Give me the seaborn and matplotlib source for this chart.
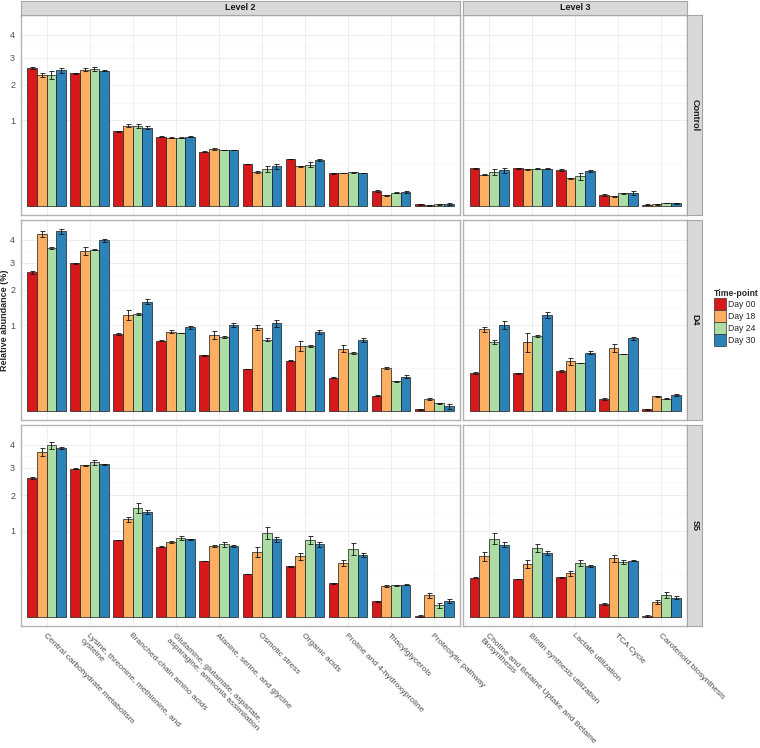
import numpy as np
import pandas as pd
import matplotlib
matplotlib.use("Agg")
import matplotlib.pyplot as plt
import seaborn as sns
from matplotlib.patches import Patch
from matplotlib.container import BarContainer

# categories
level2 = ["Central carbohydrate metabolism",
          "Lysine, threonine, methionine, and\ncysteine",
          "Branched-chain amino acids",
          "Glutamine, glutamate, aspartate,\nasparagine; ammonia assimilation",
          "Alanine, serine, and glycine",
          "Osmotic stress",
          "Organic acids",
          "Proline and 4-hydroxyproline",
          "Triacylglycerols",
          "Proteolytic pathway"]
level3 = ["Choline and Betaine Uptake and Betaine\nBiosynthesis",
          "Biotin synthesis utilization",
          "Lactate utilization",
          "TCA Cycle",
          "Carotenoid biosynthesis"]
days = ["Day 00", "Day 18", "Day 24", "Day 30"]
groups = ["Control", "D4", "S5"]
colors = ["#D7191C", "#FDAE61", "#ABDDA4", "#2B83BA"]

# mean relative abundance (%), one row per time-point
ctrl_l2 = [[2.60, 2.40, 0.76, 0.655, 0.402, 0.240, 0.300, 0.145, 0.032, 0.0003],
           [2.33, 2.54, 0.88, 0.636, 0.442, 0.160, 0.214, 0.148, 0.015, 0.0001],
           [2.35, 2.55, 0.87, 0.636, 0.427, 0.186, 0.232, 0.154, 0.024, 0.0003],
           [2.51, 2.49, 0.84, 0.655, 0.427, 0.214, 0.288, 0.148, 0.026, 0.0006]]
ctrl_l2_se = [[0.025, 0.02, 0.01, 0.008, 0.006, 0.005, 0.005, 0.004, 0.004, 0.0002],
              [0.071, 0.05, 0.036, 0.008, 0.01, 0.009, 0.006, 0.004, 0.002, 0.0001],
              [0.143, 0.074, 0.044, 0.008, 0.006, 0.03, 0.03, 0.004, 0.0025, 0.0002],
              [0.099, 0.02, 0.028, 0.01, 0.006, 0.028, 0.012, 0.004, 0.004, 0.0005]]
ctrl_l3 = [[0.193, 0.193, 0.179, 0.0172, 0.0002],
           [0.133, 0.183, 0.104, 0.0124, 0.0003],
           [0.157, 0.189, 0.119, 0.0215, 0.0011],
           [0.173, 0.189, 0.166, 0.0238, 0.0009]]
ctrl_l3_se = [[0.003, 0.003, 0.01, 0.003, 0.0001],
              [0.004, 0.003, 0.004, 0.001, 0.0001],
              [0.028, 0.003, 0.03, 0.002, 0.0002],
              [0.026, 0.003, 0.006, 0.0074, 0.0002]]

d4_l2 = [[2.62, 2.97, 0.80, 0.675, 0.424, 0.242, 0.347, 0.150, 0.032, 0.0005],
         [4.27, 3.48, 1.26, 0.858, 0.795, 0.946, 0.577, 0.531, 0.254, 0.0195],
         [3.62, 3.56, 1.29, 0.830, 0.754, 0.694, 0.577, 0.455, 0.119, 0.0079],
         [4.40, 3.97, 1.63, 0.954, 1.000, 1.047, 0.851, 0.688, 0.162, 0.0034]]
d4_l2_se = [[0.05, 0.027, 0.021, 0.006, 0.005, 0.004, 0.004, 0.006, 0.002, 0.0003],
            [0.144, 0.173, 0.122, 0.036, 0.083, 0.053, 0.082, 0.057, 0.008, 0.0022],
            [0.044, 0.015, 0.026, 0.006, 0.02, 0.032, 0.023, 0.016, 0.002, 0.0007],
            [0.146, 0.077, 0.069, 0.03, 0.046, 0.095, 0.043, 0.046, 0.016, 0.0027]]
d4_l3 = [[0.195, 0.192, 0.220, 0.0195, 0.0004],
         [0.909, 0.650, 0.338, 0.537, 0.029],
         [0.650, 0.767, 0.316, 0.439, 0.0206],
         [1.008, 1.255, 0.465, 0.721, 0.033]]
d4_l3_se = [[0.007, 0.002, 0.011, 0.002, 0.0002],
            [0.059, 0.18, 0.045, 0.068, 0.001],
            [0.031, 0.027, 0.004, 0.003, 0.001],
            [0.093, 0.078, 0.026, 0.033, 0.004]]

s5_l2 = [[2.61, 2.97, 0.80, 0.669, 0.424, 0.250, 0.347, 0.153, 0.033, 0.0002],
         [3.68, 3.10, 1.29, 0.767, 0.682, 0.571, 0.498, 0.394, 0.130, 0.0635],
         [3.98, 3.23, 1.60, 0.851, 0.714, 0.954, 0.795, 0.631, 0.136, 0.0184],
         [3.86, 3.15, 1.49, 0.816, 0.682, 0.816, 0.714, 0.525, 0.141, 0.033]]
s5_l2_se = [[0.025, 0.013, 0.007, 0.004, 0.004, 0.004, 0.004, 0.003, 0.002, 0.0002],
            [0.179, 0.013, 0.07, 0.02, 0.026, 0.088, 0.055, 0.049, 0.008, 0.0156],
            [0.155, 0.11, 0.147, 0.043, 0.046, 0.137, 0.083, 0.111, 0.003, 0.0084],
            [0.03, 0.013, 0.047, 0.014, 0.013, 0.056, 0.046, 0.034, 0.006, 0.0084]]
s5_l3 = [[0.206, 0.195, 0.213, 0.0229, 0.0002],
         [0.498, 0.380, 0.258, 0.465, 0.0318],
         [0.830, 0.644, 0.399, 0.404, 0.0674],
         [0.707, 0.554, 0.352, 0.429, 0.0505]]
s5_l3_se = [[0.005, 0.002, 0.007, 0.0035, 0.0002],
            [0.077, 0.053, 0.032, 0.058, 0.008],
            [0.113, 0.081, 0.044, 0.030, 0.018],
            [0.052, 0.035, 0.014, 0.005, 0.007]]

panels = {("Control", 0): (ctrl_l2, ctrl_l2_se), ("Control", 1): (ctrl_l3, ctrl_l3_se),
          ("D4", 0): (d4_l2, d4_l2_se), ("D4", 1): (d4_l3, d4_l3_se),
          ("S5", 0): (s5_l2, s5_l2_se), ("S5", 1): (s5_l3, s5_l3_se)}

sns.set_style("white")
plt.rcParams["font.family"] = ["Liberation Sans", "DejaVu Sans"]

W, H = 760, 748
fig = plt.figure(figsize=(7.6, 7.48), dpi=100)

def rect(x0, x1, y0, y1):
    return [x0 / W, 1 - y1 / H, (x1 - x0) / W, (y1 - y0) / H]

col_x = [(20.7, 460.0), (463.3, 687.3)]
row_y = [(15, 215), (220, 420), (425, 626)]
col_cats = [level2, level3]
col_names = ["Level 2", "Level 3"]

fwd = lambda v: np.sign(v) * np.sqrt(np.abs(v))
inv = lambda v: np.sign(v) * v ** 2

grey_txt = "#4D4D4D"
border = "#B3B3B3"

for r, g in enumerate(groups):
    for c in range(2):
        cats = col_cats[c]
        means, ses = panels[(g, c)]
        df = pd.DataFrame([(cats[i], days[j], means[j][i], ses[j][i])
                           for j in range(len(days)) for i in range(len(cats))],
                          columns=["Function", "Time-point", "Abundance", "SE"])
        ax = fig.add_axes(rect(col_x[c][0], col_x[c][1], row_y[r][0], row_y[r][1]))
        sns.barplot(data=df, x="Function", y="Abundance", hue="Time-point",
                    order=cats, hue_order=days, palette=colors, width=0.9,
                    saturation=1, errorbar=None, edgecolor="#1a1a1a",
                    linewidth=0.5, ax=ax, legend=False, zorder=2)
        # error bars on top of each bar
        bar_conts = [ct for ct in ax.containers if isinstance(ct, BarContainer)]
        for j, cont in enumerate(bar_conts):
            xs = [b.get_x() + b.get_width() / 2 for b in cont]
            hs = [b.get_height() for b in cont]
            idx = [int(round(x)) for x in xs]
            err = [ses[j][i] for i in idx]
            ax.errorbar(xs, hs, yerr=err, fmt="none", ecolor="#111111",
                        elinewidth=0.6, capsize=1.8, capthick=0.6, zorder=3)
        ax.set_yscale("function", functions=(fwd, inv))
        ax.set_ylim(-0.0112, 4.98)
        ax.set_xlim(-0.6, len(cats) - 0.4)
        ax.set_yticks([1, 2, 3, 4])
        ax.set_yticks([0.25, 1.457, 2.474, 3.482], minor=True)
        ax.set_xticks(range(len(cats)))
        ax.grid(which="major", color="#EBEBEB", lw=0.6)
        ax.grid(which="minor", axis="y", color="#F4F4F4", lw=0.4)
        ax.set_axisbelow(True)
        ax.set_xlabel("")
        ax.set_ylabel("")
        for sp in ax.spines.values():
            sp.set_color(border)
            sp.set_linewidth(1.0)
        ax.tick_params(which="minor", length=0)
        ax.tick_params(axis="both", which="major", color=grey_txt, length=2.5,
                       width=0.5, labelsize=6.5, labelcolor=grey_txt, pad=1.5)
        if c == 0:
            ax.set_yticklabels(["1", "2", "3", "4"])
        else:
            ax.tick_params(axis="y", left=False, labelleft=False)
        if r == len(groups) - 1:
            ax.set_xticklabels(cats, rotation=-45, ha="left", va="top",
                               rotation_mode="anchor", fontsize=6, color=grey_txt)
        else:
            ax.tick_params(axis="x", bottom=False, labelbottom=False)

        # facet strips
        if r == 0:
            sax = fig.add_axes(rect(col_x[c][0], col_x[c][1], 0.5, 15))
            sax.set_facecolor("#D9D9D9")
            sax.set_xticks([]); sax.set_yticks([])
            for sp in sax.spines.values():
                sp.set_color("#A6A6A6"); sp.set_linewidth(0.8)
            sax.text(0.5, 0.5, col_names[c], ha="center", va="center",
                     fontsize=6.5, fontweight="bold", color="#1A1A1A",
                     transform=sax.transAxes)
        if c == 1:
            sax = fig.add_axes(rect(687.3, 702.3, row_y[r][0], row_y[r][1]))
            sax.set_facecolor("#D9D9D9")
            sax.set_xticks([]); sax.set_yticks([])
            for sp in sax.spines.values():
                sp.set_color("#A6A6A6"); sp.set_linewidth(0.8)
            sax.text(0.5, 0.5, g, ha="center", va="center", rotation=-90,
                     fontsize=6.5, fontweight="bold", color="#1A1A1A",
                     transform=sax.transAxes)

fig.text(5 / W, 1 - 320 / H, "Relative abundance (%)", rotation=90,
         ha="center", va="center", fontsize=6.5, fontweight="bold")

handles = [Patch(facecolor=col, edgecolor="#333333", lw=0.5) for col in colors]
leg = fig.legend(handles, days, title="Time-point", loc="upper left",
                 bbox_to_anchor=(714 / W, 1 - 289 / H), frameon=False,
                 fontsize=6.2, title_fontproperties={"weight": "bold", "size": 6.2},
                 handlelength=1.36, handleheight=1.77, handletextpad=0.3,
                 labelspacing=0.0, borderpad=0.0, borderaxespad=0.0,
                 alignment="left")

fig.savefig("out.png", dpi=100)
